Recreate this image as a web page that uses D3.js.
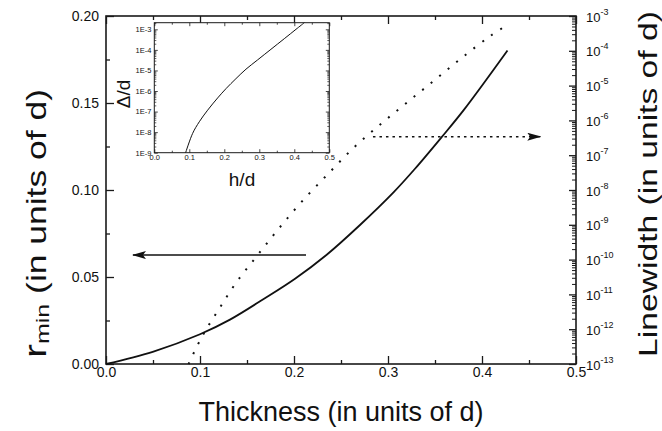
<!DOCTYPE html>
<html>
<head>
<meta charset="utf-8">
<script src="https://cdn.jsdelivr.net/npm/d3@7"></script>
<style>
  body { margin: 0; background: #fff; }
  text { font-family: Arial, "Liberation Sans", sans-serif; fill: #111; }
</style>
</head>
<body>
<svg id="chart" width="662" height="431"></svg>
<script>
// Minimum radius r_min versus film thickness h (both in units of d)
const thickness = [0, 0.0497, 0.1, 0.1319, 0.1673, 0.2011, 0.2348, 0.2702, 0.3056, 0.3287, 0.3571, 0.3809, 0.4271];
const rMin      = [0, 0.0070, 0.0171, 0.0255, 0.0372, 0.0490, 0.0628, 0.0799, 0.0985, 0.1122, 0.1304, 0.1462, 0.1802];

// Linewidth versus thickness (right log axis)
const lwThickness = [0.0878, 0.1021, 0.1199, 0.1386, 0.1614, 0.1840, 0.2085, 0.2362, 0.2646, 0.2933, 0.3227, 0.3514, 0.3801, 0.4088, 0.4280];
const linewidth   = [1.0e-13, 6.1e-13, 3.7e-12, 2.2e-11, 1.36e-10, 7.9e-10, 4.7e-9, 2.9e-8, 1.75e-7, 8.3e-7, 3.7e-6, 1.58e-5, 6.8e-5, 2.66e-4, 5.8e-4];

// Inset: Δ/d versus h/d
const insetH     = [0.0895, 0.1095, 0.1286, 0.1524, 0.181, 0.2048, 0.2333, 0.2619, 0.2952, 0.3333, 0.3714, 0.4048, 0.4286];
const insetDelta = [1e-9, 8.7e-9, 3.2e-8, 1.17e-7, 4.6e-7, 1.3e-6, 4.0e-6, 1.15e-5, 3.26e-5, 1.07e-4, 3.5e-4, 1.0e-3, 2.1e-3];

// Tick values
const xTicks = [0, 0.1, 0.2, 0.3, 0.4, 0.5];
const xMinorTicks = [0.05, 0.15, 0.25, 0.35, 0.45];
const leftTicks = [0, 0.05, 0.10, 0.15, 0.20];
const leftMinorTicks = [0.025, 0.075, 0.125, 0.175];
const rightExponents = [-13, -12, -11, -10, -9, -8, -7, -6, -5, -4, -3];
const insetXTicks = [0, 0.1, 0.2, 0.3, 0.4, 0.5];
const insetXMinorTicks = [0.05, 0.15, 0.25, 0.35, 0.45];
const insetYExponents = [-9, -8, -7, -6, -5, -4, -3];

// Arrows pointing each curve to its axis
const leftArrow  = { r: 0.0626, from: 0.2128, to: 0.0287 };
const rightArrow = { lw: 3.4e-7, from: 0.284, to: 0.462 };

const svg = d3.select("#chart");
const W = 662, H = 431;
const m = { left: 106, right: 86, top: 16, bottom: 67 };

const x  = d3.scaleLinear().domain([0, 0.5]).range([m.left, W - m.right]);
const yL = d3.scaleLinear().domain([0, 0.2]).range([H - m.bottom, m.top]);
const yR = d3.scaleLog().domain([1e-13, 1e-3]).range([H - m.bottom, m.top]);

const axisColor = "#1a1a1a";

function styleAxis(g, width) {
  g.select(".domain").remove();
  g.selectAll(".tick line").attr("stroke", axisColor).attr("stroke-width", width);
  g.selectAll(".tick text").attr("fill", "#111");
}

const minorLog = [];
for (let e = -13; e < -3; e++) for (let k = 2; k <= 9; k++) minorLog.push(k * Math.pow(10, e));

// Bottom axis
svg.append("g").attr("transform", `translate(0,${H - m.bottom})`)
  .call(d3.axisBottom(x).tickValues(xTicks).tickSize(-8).tickPadding(3).tickFormat(d3.format(".1f")))
  .call(g => g.selectAll("text").attr("font-size", 14))
  .call(g => styleAxis(g, 1.3));
svg.append("g").attr("transform", `translate(0,${H - m.bottom})`)
  .call(d3.axisBottom(x).tickValues(xMinorTicks).tickSize(-4).tickFormat(""))
  .call(g => styleAxis(g, 1.3));
// Top axis (mirrored ticks)
svg.append("g").attr("transform", `translate(0,${m.top})`)
  .call(d3.axisTop(x).tickValues(xTicks).tickSize(-8).tickFormat(""))
  .call(g => styleAxis(g, 1.3));
svg.append("g").attr("transform", `translate(0,${m.top})`)
  .call(d3.axisTop(x).tickValues(xMinorTicks).tickSize(-4).tickFormat(""))
  .call(g => styleAxis(g, 1.3));
// Left axis
svg.append("g").attr("transform", `translate(${m.left},0)`)
  .call(d3.axisLeft(yL).tickValues(leftTicks).tickSize(-8).tickPadding(7).tickFormat(d3.format(".2f")))
  .call(g => g.selectAll("text").attr("font-size", 14))
  .call(g => styleAxis(g, 1.3));
svg.append("g").attr("transform", `translate(${m.left},0)`)
  .call(d3.axisLeft(yL).tickValues(leftMinorTicks).tickSize(-4).tickFormat(""))
  .call(g => styleAxis(g, 1.3));
// Right log axis
const gR = svg.append("g").attr("transform", `translate(${W - m.right},0)`)
  .call(d3.axisRight(yR).tickValues(rightExponents.map(e => Math.pow(10, e))).tickSize(-7).tickFormat(""))
  .call(g => styleAxis(g, 1.3));
gR.selectAll(".tick").each(function(d) {
  const t = d3.select(this).append("text").attr("x", 10).attr("y", 5).attr("font-size", 13).attr("text-anchor", "start");
  t.append("tspan").text("10");
  t.append("tspan").attr("dy", -7).attr("font-size", 9).text(String(Math.round(Math.log10(d))));
});
svg.append("g").attr("transform", `translate(${W - m.right},0)`)
  .call(d3.axisRight(yR).tickValues(minorLog).tickSize(-4).tickFormat(""))
  .call(g => styleAxis(g, 1));

// Frame
svg.append("rect").attr("x", m.left).attr("y", m.top)
  .attr("width", W - m.left - m.right).attr("height", H - m.top - m.bottom)
  .attr("fill", "none").attr("stroke", axisColor).attr("stroke-width", 1.6);

// Axis titles
svg.append("text").attr("x", 341).attr("y", 421).attr("text-anchor", "middle").attr("font-size", 27)
  .text("Thickness (in units of d)");

// Vertical titles are stretched along their length to span the given extent
function verticalTitle(t, bx, cy, span) {
  const len = t.node().getComputedTextLength();
  t.attr("transform", `translate(${bx},${cy}) scale(1,${span / len}) rotate(-90)`);
}
const lt = svg.append("text").attr("text-anchor", "middle").attr("font-size", 27);
lt.append("tspan").attr("font-size", 32).text("r");
lt.append("tspan").attr("font-size", 19).attr("dy", 3).text("min");
lt.append("tspan").attr("dy", -3).text(" (in units of d)");
verticalTitle(lt, 46, 223.5, 269);

const rt = svg.append("text").attr("text-anchor", "middle").attr("font-size", 25)
  .text("Linewidth (in units of d)");
verticalTitle(rt, 657, 184, 346);

// Curves
const lineL = d3.line().x((d, i) => x(thickness[i])).y(d => yL(d)).curve(d3.curveCatmullRom.alpha(0.5));
svg.append("path").attr("d", lineL(rMin)).attr("fill", "none").attr("stroke", "#111").attr("stroke-width", 1.8);

const lineR = d3.line().x((d, i) => x(lwThickness[i])).y(d => yR(d)).curve(d3.curveCatmullRom.alpha(0.5));
svg.append("path").attr("d", lineR(linewidth)).attr("fill", "none").attr("stroke", "#111")
  .attr("stroke-width", 2).attr("stroke-dasharray", "2,9");

// Arrows
const defs = svg.append("defs");
defs.append("marker").attr("id", "head").attr("viewBox", "0 0 14 8").attr("refX", 13).attr("refY", 4)
  .attr("markerWidth", 14).attr("markerHeight", 8).attr("markerUnits", "userSpaceOnUse").attr("orient", "auto")
  .append("path").attr("d", "M0,0 L14,4 L0,8 L3,4 Z").attr("fill", "#111");
svg.append("line")
  .attr("x1", x(leftArrow.from)).attr("x2", x(leftArrow.to))
  .attr("y1", yL(leftArrow.r)).attr("y2", yL(leftArrow.r))
  .attr("stroke", "#111").attr("stroke-width", 1.5).attr("marker-end", "url(#head)");
svg.append("line")
  .attr("x1", x(rightArrow.from)).attr("x2", x(rightArrow.to) - 10)
  .attr("y1", yR(rightArrow.lw)).attr("y2", yR(rightArrow.lw))
  .attr("stroke", "#111").attr("stroke-width", 1.5).attr("stroke-dasharray", "2.5,4");
svg.append("line")
  .attr("x1", x(rightArrow.to) - 10).attr("x2", x(rightArrow.to))
  .attr("y1", yR(rightArrow.lw)).attr("y2", yR(rightArrow.lw))
  .attr("stroke", "#111").attr("stroke-width", 1.5).attr("marker-end", "url(#head)");

// Inset
const ix = d3.scaleLinear().domain([0, 0.5]).range([154.3, 329.3]);
const iy = d3.scaleLog().domain([1e-9, 2.1e-3]).range([152.7, 22.7]);
const inset = svg.append("g");
inset.append("rect").attr("x", 154.3).attr("y", 22.7).attr("width", 175).attr("height", 130).attr("fill", "#fff");

const insetMinorY = [];
for (let e = -9; e <= -3; e++) for (let k = 2; k <= 9; k++) { const v = k * Math.pow(10, e); if (v <= 2.1e-3) insetMinorY.push(v); }

inset.append("g").attr("transform", "translate(0,152.7)")
  .call(d3.axisBottom(ix).tickValues(insetXTicks).tickSize(-3.5).tickPadding(2).tickFormat(d3.format(".1f")))
  .call(g => g.selectAll("text").attr("font-size", 7.5))
  .call(g => styleAxis(g, 0.8));
inset.append("g").attr("transform", "translate(0,152.7)")
  .call(d3.axisBottom(ix).tickValues(insetXMinorTicks).tickSize(-2).tickFormat(""))
  .call(g => styleAxis(g, 0.8));
inset.append("g").attr("transform", "translate(0,22.7)")
  .call(d3.axisTop(ix).tickValues(insetXTicks).tickSize(-3.5).tickFormat(""))
  .call(g => styleAxis(g, 0.8));
inset.append("g").attr("transform", "translate(0,22.7)")
  .call(d3.axisTop(ix).tickValues(insetXMinorTicks).tickSize(-2).tickFormat(""))
  .call(g => styleAxis(g, 0.8));
inset.append("g").attr("transform", "translate(154.3,0)")
  .call(d3.axisLeft(iy).tickValues(insetYExponents.map(e => Math.pow(10, e))).tickSize(-3.5).tickPadding(3)
    .tickFormat(d => "1E" + Math.round(Math.log10(d))))
  .call(g => g.selectAll("text").attr("font-size", 7.5))
  .call(g => styleAxis(g, 0.8));
inset.append("g").attr("transform", "translate(154.3,0)")
  .call(d3.axisLeft(iy).tickValues(insetMinorY).tickSize(-2).tickFormat(""))
  .call(g => styleAxis(g, 0.7));
inset.append("g").attr("transform", "translate(329.3,0)")
  .call(d3.axisRight(iy).tickValues(insetYExponents.map(e => Math.pow(10, e))).tickSize(-3.5).tickFormat(""))
  .call(g => styleAxis(g, 0.8));
inset.append("g").attr("transform", "translate(329.3,0)")
  .call(d3.axisRight(iy).tickValues(insetMinorY).tickSize(-2).tickFormat(""))
  .call(g => styleAxis(g, 0.7));
inset.append("rect").attr("x", 154.3).attr("y", 22.7).attr("width", 175).attr("height", 130)
  .attr("fill", "none").attr("stroke", axisColor).attr("stroke-width", 1);

const lineI = d3.line().x((d, i) => ix(insetH[i])).y(d => iy(d)).curve(d3.curveCatmullRom.alpha(0.5));
inset.append("path").attr("d", lineI(insetDelta)).attr("fill", "none").attr("stroke", "#111").attr("stroke-width", 1);

inset.append("text").attr("x", 242).attr("y", 186).attr("text-anchor", "middle").attr("font-size", 19).text("h/d");
inset.append("text").attr("transform", "translate(130,94) rotate(-90)").attr("text-anchor", "middle")
  .attr("font-size", 19).text("Δ/d");
</script>
</body>
</html>
